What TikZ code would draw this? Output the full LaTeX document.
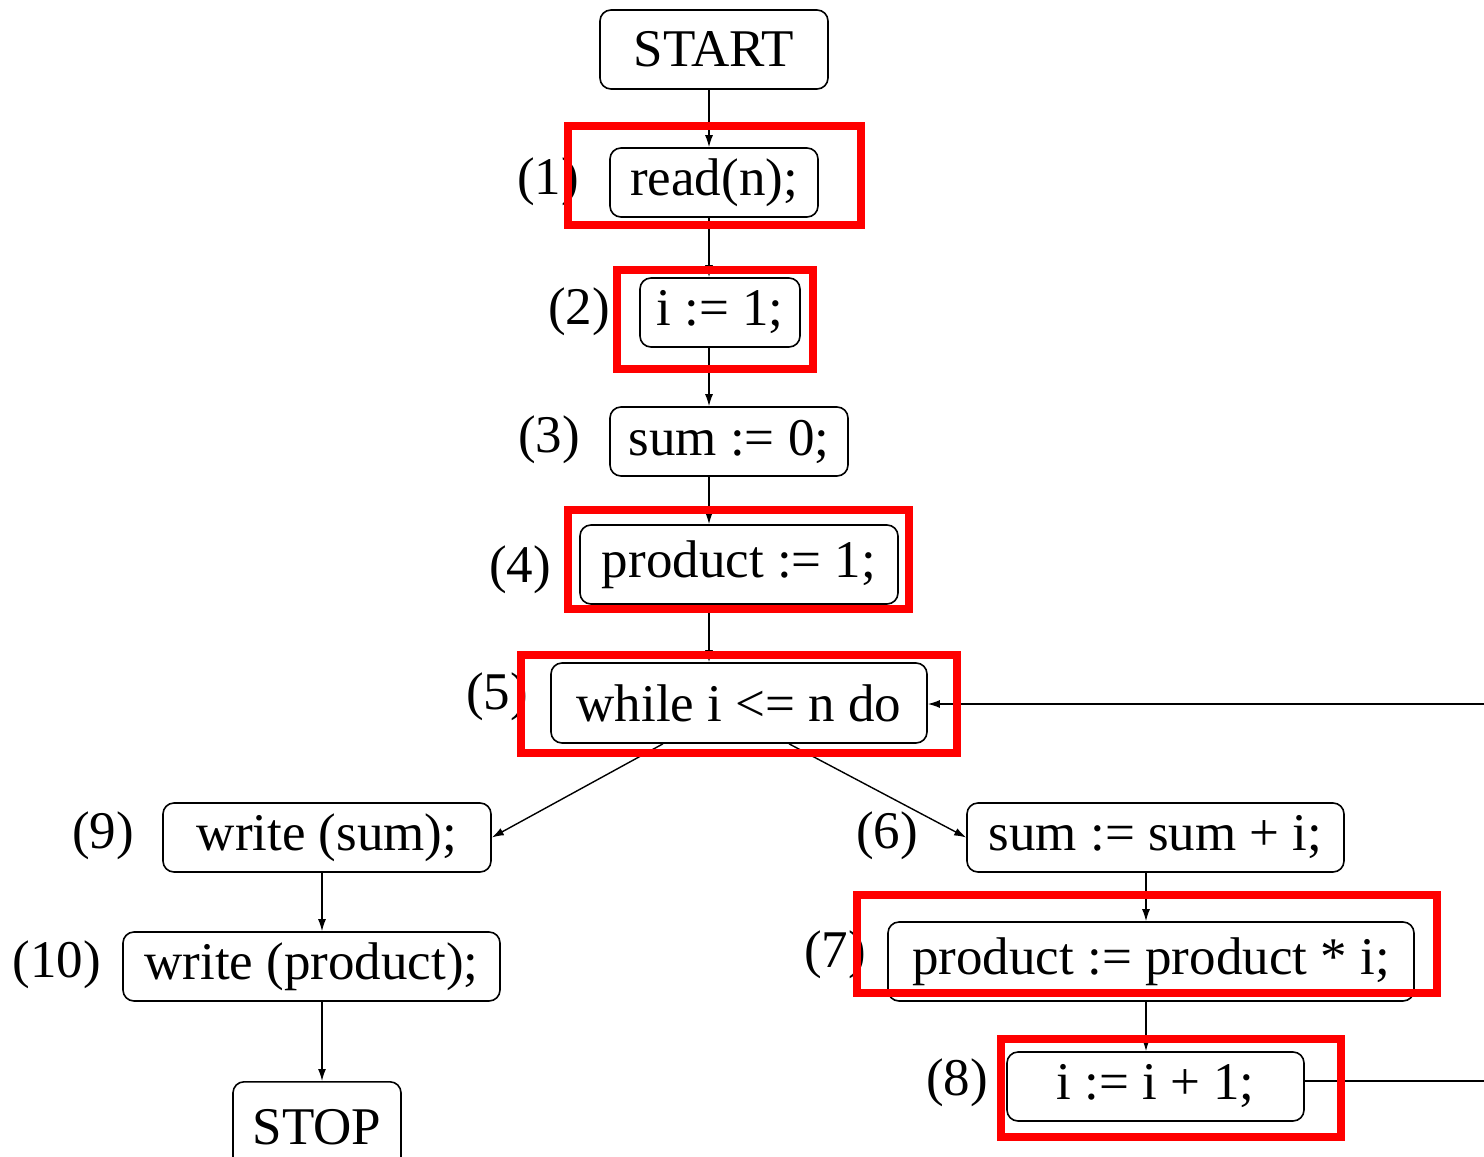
\documentclass[tikz,border=0pt]{standalone}
\usepackage{fontspec}
\setmainfont{Liberation Serif}
\usetikzlibrary{arrows.meta}

\begin{document}
\begin{tikzpicture}[x=1pt,y=-1pt,
  blk/.style={draw=black, line width=1.6pt, rounded corners=11pt, inner sep=0pt,
              font=\fontsize{53}{60}\selectfont},
  lbl/.style={inner sep=0pt, font=\fontsize{53}{60}\selectfont},
  arr/.style={draw=black, line width=1.4pt, -{Latex[length=12pt,width=8pt]}},
  ln/.style={draw=black, line width=1.4pt},
  hl/.style={draw=red, line width=8pt}]
\useasboundingbox (0,0) rectangle (1484,1157);
\fill[white] (0,0) rectangle (1484,1157);

% column guides for the vertical connectors
\coordinate (trunk) at (709,0);
\coordinate (lcol) at (322,0);
\coordinate (rcol) at (1146,0);
\coordinate (loopin) at (1484,704);
\coordinate (loopout) at (1484,1081);

% statement boxes
\node[blk, minimum width=228pt, minimum height=79pt] (start) at (714,49.5) {START};
\node[blk, minimum width=208pt, minimum height=69pt] (read) at (714,182.5) {read(n);};
\node[blk, minimum width=160pt, minimum height=69pt] (iinit) at (720,312.5) {i := 1;};
\node[blk, minimum width=238pt, minimum height=69pt] (sinit) at (729,441.5) {sum := 0;};
\node[blk, minimum width=318pt, minimum height=79pt] (pinit) at (739,564.5) {product := 1;};
\node[blk, minimum width=376pt, minimum height=80pt] (while) at (739,703) {while i <= n do};
\node[blk, minimum width=328pt, minimum height=69pt] (wsum) at (327,837.5) {write (sum);};
\node[blk, minimum width=377pt, minimum height=69pt] (ssum) at (1155.5,837.5) {sum := sum + i;};
\node[blk, minimum width=377pt, minimum height=69pt] (wprod) at (311.5,966.5) {write (product);};
\node[blk, minimum width=526pt, minimum height=79pt] (pmul) at (1151,961.5) {product := product * i;};
\node[blk, minimum width=297pt, minimum height=69pt] (inc) at (1155.5,1086.5) {i := i + 1;};
\node[blk, minimum width=168pt, minimum height=90pt, anchor=north] (stop) at (317,1081) {STOP};

% statement numbers
\node[lbl] (n1) at (548,182) {(1)};
\node[lbl] (n2) at (579,312) {(2)};
\node[lbl] (n3) at (549,440) {(3)};
\node[lbl] (n4) at (520,570) {(4)};
\node[lbl] (n5) at (497,697) {(5)};
\node[lbl] (n6) at (887,836) {(6)};
\node[lbl] (n7) at (835,955) {(7)};
\node[lbl] (n8) at (957,1083) {(8)};
\node[lbl] (n9) at (103,836) {(9)};
\node[lbl] (n10) at (57,965) {(10)};

% control flow
\draw[arr] (start.south -| trunk) -- (read.north -| trunk);
\draw[arr] (read.south -| trunk) -- (iinit.north -| trunk);
\draw[arr] (iinit.south -| trunk) -- (sinit.north -| trunk);
\draw[arr] (sinit.south -| trunk) -- (pinit.north -| trunk);
\draw[arr] (pinit.south -| trunk) -- (while.north -| trunk);
\draw[arr] ([xshift=-76pt]while.south) -- (wsum.east);
\draw[arr] ([xshift=50pt]while.south) -- (ssum.west);
\draw[arr] (ssum.south -| rcol) -- (pmul.north -| rcol);
\draw[arr] (pmul.south -| rcol) -- (inc.north -| rcol);
\draw[arr] (wsum.south -| lcol) -- (wprod.north -| lcol);
\draw[arr] (wprod.south -| lcol) -- (stop.north -| lcol);
\draw[arr] (loopin) -- (while.east |- loopin);
\draw[ln] (inc.east |- loopout) -- (loopout);

% highlighted statements
\draw[hl] (568,126) rectangle (861,225);
\draw[hl] (617,270) rectangle (813,369);
\draw[hl] (568,510) rectangle (909,609);
\draw[hl] (521,655) rectangle (957,753);
\draw[hl] (857,895) rectangle (1437,993);
\draw[hl] (1001,1039) rectangle (1341,1137);
\end{tikzpicture}
\end{document}
